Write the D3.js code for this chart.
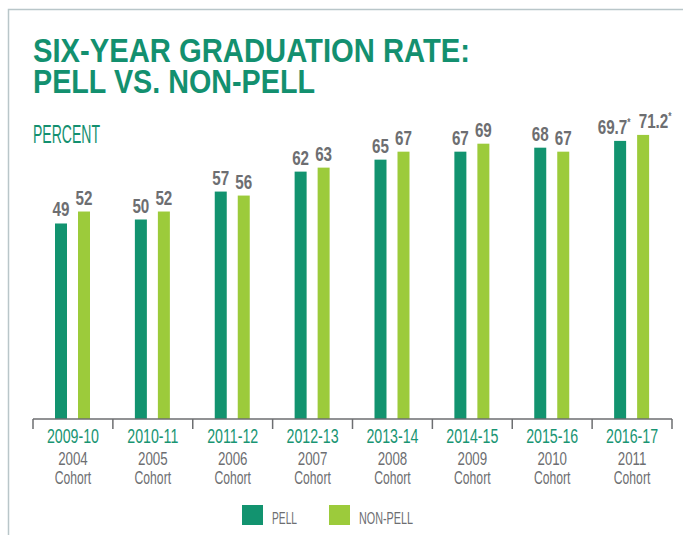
<!DOCTYPE html>
<head>
  <meta charset="utf-8">
  <script src="https://d3js.org/d3.v7.min.js"></script>
  <style>
    body { margin:0; background:#fff; }
    svg { display:block; }
    text { font-family: "Liberation Sans Narrow", "Liberation Sans", "DejaVu Sans Condensed", sans-serif; }
  </style>
</head>
<body>
  <svg id="chart"></svg>
  <script>
  // data
  var years = ["2009-10", "2010-11", "2011-12", "2012-13", "2013-14", "2014-15", "2015-16", "2016-17"];
  var cohorts = ["2004", "2005", "2006", "2007", "2008", "2009", "2010", "2011"];
  var pell = [49, 50, 57, 62, 65, 67, 68, 69.7];
  var nonPell = [52, 52, 56, 63, 67, 69, 67, 71.2];
  var starred = [false, false, false, false, false, false, false, true];
  var seriesNames = ["PELL", "NON-PELL"];

  var width = 683, height = 535;
  var green = "#13906f";
  var pellColor = "#12936f";
  var nonPellColor = "#9ccb3b";
  var gray = "#6d6e71";

  var svg = d3.select("#chart")
    .attr("width", width)
    .attr("height", height);

  // frame
  svg.append("rect")
    .attr("x", 8.5).attr("y", 9.5)
    .attr("width", 700).attr("height", 600)
    .attr("fill", "none")
    .attr("stroke", "#b9c6c9")
    .attr("stroke-width", 1.5);

  // squeeze text to a wanted width
  function fit(sel, w) {
    sel.attr("textLength", w).attr("lengthAdjust", "spacingAndGlyphs");
  }
  function squeeze(sel, k) {
    sel.each(function() {
      var n = d3.select(this);
      fit(n, this.getComputedTextLength() * k);
    });
  }

  // title
  fit(svg.append("text")
    .attr("x", 33).attr("y", 62)
    .attr("fill", green)
    .attr("font-size", 33)
    .attr("font-weight", "bold")
    .text("SIX-YEAR GRADUATION RATE:"), 437);
  fit(svg.append("text")
    .attr("x", 33).attr("y", 93)
    .attr("fill", green)
    .attr("font-size", 33)
    .attr("font-weight", "bold")
    .text("PELL VS. NON-PELL"), 282);

  fit(svg.append("text")
    .attr("x", 33).attr("y", 143)
    .attr("fill", green)
    .attr("font-size", 25)
    .text("PERCENT"), 67);

  // scales
  var x0 = d3.scaleBand()
    .domain(years)
    .range([33, 672]);

  var x1 = d3.scaleBand()
    .domain(seriesNames)
    .range([22, 57])
    .paddingInner(11 / 23);

  var y = d3.scaleLinear()
    .domain([0, 100])
    .range([419, 20]);

  var colors = d3.scaleOrdinal()
    .domain(seriesNames)
    .range([pellColor, nonPellColor]);

  // nudge for labels carrying an asterisk
  var starShift = d3.scaleOrdinal()
    .domain(seriesNames)
    .range([-6, 12]);

  var rows = years.map(function(yr, i) {
    return {
      year: yr,
      values: [
        { name: "PELL", value: pell[i], star: starred[i] },
        { name: "NON-PELL", value: nonPell[i], star: starred[i] }
      ]
    };
  });

  var groups = svg.append("g").selectAll("g")
    .data(rows)
    .join("g")
      .attr("transform", function(d) { return "translate(" + x0(d.year) + ",0)"; });

  groups.selectAll("rect")
    .data(function(d) { return d.values; })
    .join("rect")
      .attr("x", function(d) { return x1(d.name); })
      .attr("y", function(d) { return y(d.value); })
      .attr("width", x1.bandwidth())
      .attr("height", function(d) { return y(0) - y(d.value); })
      .attr("fill", function(d) { return colors(d.name); });

  var labels = groups.selectAll("text.val")
    .data(function(d) { return d.values; })
    .join("text")
      .attr("class", "val")
      .attr("x", function(d) { return x1(d.name) + x1.bandwidth() / 2 + (d.star ? starShift(d.name) : 0); })
      .attr("y", function(d) { return y(d.value) - 7; })
      .attr("text-anchor", "middle")
      .attr("fill", gray)
      .attr("font-size", 20)
      .attr("font-weight", "bold");
  labels.append("tspan")
    .text(function(d) { return d.value; });
  labels.filter(function(d) { return d.star; })
    .append("tspan")
      .attr("font-size", 11)
      .attr("baseline-shift", "8")
      .text("*");
  squeeze(labels, 0.76);

  // axis
  var xAxis = d3.axisBottom(x0)
    .tickSize(0)
    .tickFormat("");

  var axisG = svg.append("g")
    .attr("transform", "translate(0," + y(0) + ")")
    .call(xAxis);
  axisG.select(".domain")
    .attr("stroke", gray)
    .attr("stroke-width", 1.5)
    .attr("d", "M33,0H672");

  var bounds = years.map(function(d) { return x0(d); }).concat([x0.range()[1]]);
  axisG.selectAll("line.bound")
    .data(bounds)
    .join("line")
      .attr("class", "bound")
      .attr("x1", function(d) { return d; })
      .attr("x2", function(d) { return d; })
      .attr("y1", 0)
      .attr("y2", 10)
      .attr("stroke", gray)
      .attr("stroke-width", 1.5);

  var cats = svg.append("g").selectAll("g")
    .data(years)
    .join("g")
      .attr("transform", function(d) { return "translate(" + (x0(d) + x0.bandwidth() / 2) + ",0)"; });

  squeeze(cats.append("text")
    .attr("y", 443)
    .attr("text-anchor", "middle")
    .attr("fill", "#199573")
    .attr("font-size", 20)
    .text(function(d) { return d; }), 0.71);
  squeeze(cats.append("text")
    .attr("y", 465)
    .attr("text-anchor", "middle")
    .attr("fill", gray)
    .attr("font-size", 19)
    .text(function(d, i) { return cohorts[i]; }), 0.7);
  squeeze(cats.append("text")
    .attr("y", 484)
    .attr("text-anchor", "middle")
    .attr("fill", gray)
    .attr("font-size", 19)
    .text("Cohort"), 0.64);

  // legend
  var legendX = [242, 329];
  var legendW = [25, 54];
  var legend = svg.append("g").selectAll("g")
    .data(seriesNames)
    .join("g")
      .attr("transform", function(d, i) { return "translate(" + legendX[i] + ",505)"; });
  legend.append("rect")
    .attr("width", 21)
    .attr("height", 20)
    .attr("fill", function(d) { return colors(d); });
  legend.append("text")
    .attr("x", 30)
    .attr("y", 19)
    .attr("fill", gray)
    .attr("font-size", 17)
    .each(function(d, i) { fit(d3.select(this).text(d), legendW[i]); });
  </script>
</body>
